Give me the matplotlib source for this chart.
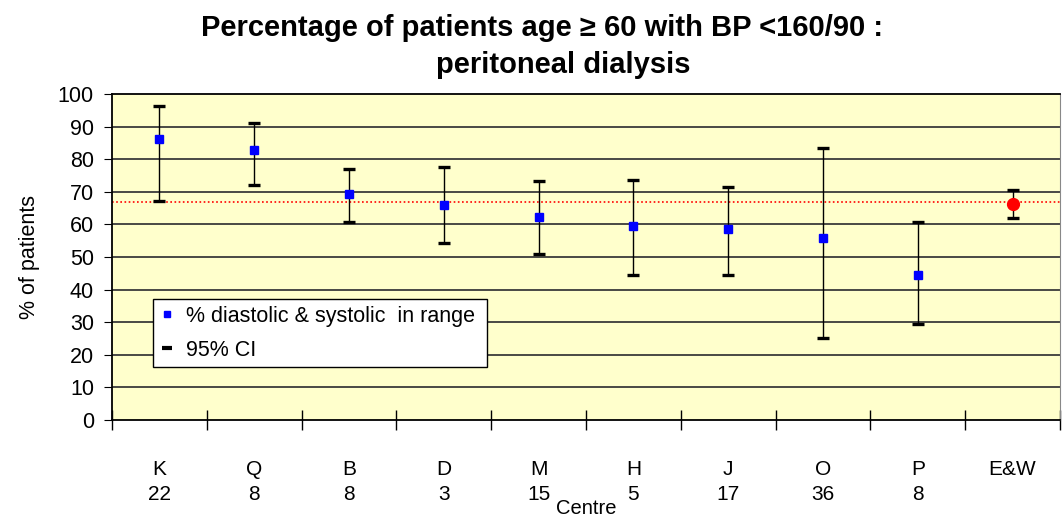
import matplotlib.pyplot as plt
import numpy as np
from matplotlib.lines import Line2D

plt.rcParams['font.family'] = ['Liberation Sans', 'DejaVu Sans']

# data
centres = ['K', 'Q', 'B', 'D', 'M', 'H', 'J', 'O', 'P', 'E&W']
counts = ['22', '8', '8', '3', '15', '5', '17', '36', '8', '']
pct = [86.1, 82.8, 69.3, 66.1, 62.4, 59.6, 58.6, 55.8, 44.5, 66.2]
ci_upper = [96.4, 91.0, 76.9, 77.5, 73.2, 73.7, 71.6, 83.4, 60.7, 70.6]
ci_lower = [67.2, 72.1, 60.6, 54.2, 51.0, 44.5, 44.5, 25.1, 29.3, 61.9]
national = 66.9

fig = plt.figure(figsize=(10.64, 5.17), dpi=100)
ax = fig.add_axes([112/1064, 1-420/517, 948/1064, 326/517])
ax.set_facecolor('#FFFFCC')

x = np.arange(len(centres))
pct = np.array(pct)
lo = pct - np.array(ci_lower)
hi = np.array(ci_upper) - pct

ax.set_ylim(0, 100)
ax.set_xlim(-0.5, len(centres) - 0.5)
ax.set_yticks(np.arange(0, 101, 10))
for v in range(10, 100, 10):
    ax.axhline(v, color='#3a3a3a', lw=1.3, zorder=1)

ax.axhline(national, color='red', lw=1.2, ls=(0, (1, 1.5)), zorder=2)

ax.errorbar(x, pct, yerr=[lo, hi], fmt='none', ecolor='black', elinewidth=1,
            capsize=4.3, capthick=2.4, zorder=3)
ax.plot(x[:-1], pct[:-1], 's', color='blue', ms=5.8, zorder=4)
ax.plot(x[-1], pct[-1], 'o', color='red', ms=8.5, zorder=4)

ax.set_xticks(x)
ax.set_xticklabels([c + '\n' + n for c, n in zip(centres, counts)], fontsize=15,
                   linespacing=1.4)
ax.set_xticks(np.arange(-0.5, len(centres), 1), minor=True)
ax.tick_params(axis='x', which='major', length=0, pad=29)
ax.tick_params(axis='x', which='minor', direction='inout', length=14, width=1)
ax.tick_params(axis='y', direction='out', length=6, labelsize=15.5, pad=7)

ax.spines['left'].set_linewidth(1.3)
ax.spines['bottom'].set_linewidth(1.3)
ax.spines['top'].set_linewidth(1.3)
ax.spines['right'].set_color('#888888')

ax.set_xlabel('Centre', fontsize=14.5, va='center')
ax.xaxis.set_label_coords(0.5, -88/326)
ax.set_ylabel('% of patients', fontsize=15.5, labelpad=13)

fig.text(542/1064, 1-28/517, 'Percentage of patients age \u2265 60 with BP <160/90 :',
         fontsize=21, fontweight='bold', ha='center', va='center')
fig.text(563/1064, 1-65/517, 'peritoneal dialysis',
         fontsize=21, fontweight='bold', ha='center', va='center')

handles = [Line2D([], [], marker='s', color='blue', ls='none', ms=5),
           Line2D([], [], marker='_', color='black', ls='none', ms=7, mew=3)]
leg = ax.legend(handles, ['% diastolic & systolic  in range', '95% CI'],
                loc='lower left', bbox_to_anchor=(41/948, 53/326, 334/948, 70/326),
                mode='expand', borderaxespad=0, fontsize=15.5, frameon=True,
                fancybox=False, handlelength=0.7, handletextpad=0.55,
                borderpad=0.3, labelspacing=0.6)
leg.get_frame().set_edgecolor('black')
leg.get_frame().set_linewidth(1)
leg.get_frame().set_alpha(1)
leg.set_zorder(5)

fig.savefig('out.png', dpi=100)
